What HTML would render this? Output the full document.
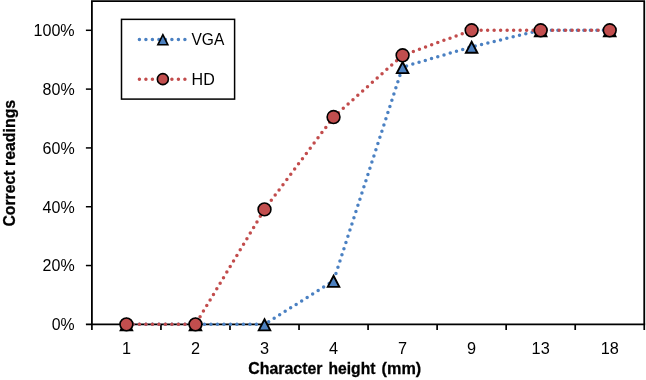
<!DOCTYPE html>
<html lang="en">
<head>
<meta charset="utf-8">
<title>Correct readings vs character height</title>
<style>
html,body{margin:0;padding:0;background:#fff;}
body{width:646px;height:380px;overflow:hidden;}
svg{display:block;will-change:transform;}
text{font-family:"Liberation Sans",sans-serif;fill:#000;}
.b{font-weight:bold;stroke:#000;stroke-width:0.3px;}
</style>
</head>
<body>
<svg width="646" height="380" viewBox="0 0 646 380">
<rect x="0" y="0" width="646" height="380" fill="#ffffff"/>

<g stroke="#000" fill="none" stroke-linecap="butt">
<path d="M91.9 324.35 V1.15 H644.25 V324.35" stroke-width="1.8" stroke-linejoin="miter"/>
<path d="M85.9 324.35 H645.15" stroke-width="1.7"/>
<path d="M85.9 265.54 H91.9" stroke-width="1.5"/>
<path d="M85.9 206.73 H91.9" stroke-width="1.5"/>
<path d="M85.9 147.92 H91.9" stroke-width="1.5"/>
<path d="M85.9 89.11 H91.9" stroke-width="1.5"/>
<path d="M85.9 30.30 H91.9" stroke-width="1.5"/>
<path d="M91.90 324.35 V330" stroke-width="1.7"/>
<path d="M160.94 324.35 V330" stroke-width="1.7"/>
<path d="M229.99 324.35 V330" stroke-width="1.7"/>
<path d="M299.03 324.35 V330" stroke-width="1.7"/>
<path d="M368.08 324.35 V330" stroke-width="1.7"/>
<path d="M437.12 324.35 V330" stroke-width="1.7"/>
<path d="M506.16 324.35 V330" stroke-width="1.7"/>
<path d="M575.21 324.35 V330" stroke-width="1.7"/>
<path d="M644.25 324.35 V330" stroke-width="1.7"/>
</g>
<text x="74.7" y="330.25" font-size="16.3" text-anchor="end" textLength="22.9" lengthAdjust="spacingAndGlyphs">0%</text>
<text x="74.7" y="271.44" font-size="16.3" text-anchor="end" textLength="32.1" lengthAdjust="spacingAndGlyphs">20%</text>
<text x="74.7" y="212.63" font-size="16.3" text-anchor="end" textLength="32.1" lengthAdjust="spacingAndGlyphs">40%</text>
<text x="74.7" y="153.82" font-size="16.3" text-anchor="end" textLength="32.1" lengthAdjust="spacingAndGlyphs">60%</text>
<text x="74.7" y="95.01" font-size="16.3" text-anchor="end" textLength="32.1" lengthAdjust="spacingAndGlyphs">80%</text>
<text x="74.7" y="36.20" font-size="16.3" text-anchor="end" textLength="41.2" lengthAdjust="spacingAndGlyphs">100%</text>
<text x="126.42" y="354.1" font-size="16.3" text-anchor="middle">1</text>
<text x="195.47" y="354.1" font-size="16.3" text-anchor="middle">2</text>
<text x="264.51" y="354.1" font-size="16.3" text-anchor="middle">3</text>
<text x="333.55" y="354.1" font-size="16.3" text-anchor="middle">4</text>
<text x="402.60" y="354.1" font-size="16.3" text-anchor="middle">7</text>
<text x="471.64" y="354.1" font-size="16.3" text-anchor="middle">9</text>
<text x="540.68" y="354.1" font-size="16.3" text-anchor="middle">13</text>
<text x="609.73" y="354.1" font-size="16.3" text-anchor="middle">18</text>
<text class="b" y="373.5" font-size="16.7"><tspan x="248.3" textLength="74.2" lengthAdjust="spacingAndGlyphs">Character</tspan> <tspan x="328.5" textLength="46.9" lengthAdjust="spacingAndGlyphs">height</tspan> <tspan x="381.6" textLength="39.6" lengthAdjust="spacingAndGlyphs">(mm)</tspan></text>
<text class="b" transform="translate(15.4 0) rotate(-90)" y="0" font-size="17.2"><tspan x="-226.5" textLength="55.9" lengthAdjust="spacingAndGlyphs">Correct</tspan> <tspan x="-166.0" textLength="66.2" lengthAdjust="spacingAndGlyphs">readings</tspan></text>
<polyline points="126.42,324.35 195.47,324.35 264.51,324.35 333.55,280.83 402.60,67.06 471.64,46.77 540.68,30.30 609.73,30.30" stroke="#4a80c2" stroke-width="3.5" stroke-linecap="round" stroke-dasharray="0 6.5" fill="none" stroke-linejoin="round"/>
<polyline points="126.42,324.35 195.47,324.35 264.51,209.38 333.55,117.04 402.60,55.29 471.64,30.30 540.68,30.30 609.73,30.30" stroke="#c24c4c" stroke-width="3.5" stroke-linecap="round" stroke-dasharray="0 6.5" fill="none" stroke-linejoin="round"/>
<path d="M126.42 319.31 L132.18 330.40 H120.66 Z" fill="#4d81c0" stroke="#000" stroke-width="1.9" stroke-linejoin="miter" stroke-miterlimit="10"/>
<path d="M195.47 319.31 L201.23 330.40 H189.70 Z" fill="#4d81c0" stroke="#000" stroke-width="1.9" stroke-linejoin="miter" stroke-miterlimit="10"/>
<path d="M264.51 319.31 L270.27 330.40 H258.75 Z" fill="#4d81c0" stroke="#000" stroke-width="1.9" stroke-linejoin="miter" stroke-miterlimit="10"/>
<path d="M333.55 275.79 L339.31 286.88 H327.79 Z" fill="#4d81c0" stroke="#000" stroke-width="1.9" stroke-linejoin="miter" stroke-miterlimit="10"/>
<path d="M402.60 62.02 L408.36 73.11 H396.84 Z" fill="#4d81c0" stroke="#000" stroke-width="1.9" stroke-linejoin="miter" stroke-miterlimit="10"/>
<path d="M471.64 41.73 L477.40 52.82 H465.88 Z" fill="#4d81c0" stroke="#000" stroke-width="1.9" stroke-linejoin="miter" stroke-miterlimit="10"/>
<path d="M540.68 25.26 L546.45 36.35 H534.92 Z" fill="#4d81c0" stroke="#000" stroke-width="1.9" stroke-linejoin="miter" stroke-miterlimit="10"/>
<path d="M609.73 25.26 L615.49 36.35 H603.97 Z" fill="#4d81c0" stroke="#000" stroke-width="1.9" stroke-linejoin="miter" stroke-miterlimit="10"/>
<circle cx="126.42" cy="324.35" r="6.40" fill="#c24e4e" stroke="#000" stroke-width="1.6"/>
<circle cx="195.47" cy="324.35" r="6.40" fill="#c24e4e" stroke="#000" stroke-width="1.6"/>
<circle cx="264.51" cy="209.38" r="6.40" fill="#c24e4e" stroke="#000" stroke-width="1.6"/>
<circle cx="333.55" cy="117.04" r="6.40" fill="#c24e4e" stroke="#000" stroke-width="1.6"/>
<circle cx="402.60" cy="55.29" r="6.40" fill="#c24e4e" stroke="#000" stroke-width="1.6"/>
<circle cx="471.64" cy="30.30" r="6.40" fill="#c24e4e" stroke="#000" stroke-width="1.6"/>
<circle cx="540.68" cy="30.30" r="6.40" fill="#c24e4e" stroke="#000" stroke-width="1.6"/>
<circle cx="609.73" cy="30.30" r="6.40" fill="#c24e4e" stroke="#000" stroke-width="1.6"/>
<rect x="121.5" y="19.35" width="113.1" height="79.75" fill="#fff" stroke="#000" stroke-width="1.5"/>
<path d="M139.4 39.4 H186" stroke="#4a80c2" stroke-width="3.5" stroke-linecap="round" stroke-dasharray="0 6.5" fill="none" stroke-linejoin="round"/>
<path d="M162.85 34.70 L167.86 44.80 H157.84 Z" fill="#4d81c0" stroke="#000" stroke-width="1.6" stroke-linejoin="miter" stroke-miterlimit="10"/>
<text x="191.5" y="44.65" font-size="16.3" textLength="32.8" lengthAdjust="spacingAndGlyphs">VGA</text>
<path d="M139.4 79.3 H186" stroke="#c24c4c" stroke-width="3.5" stroke-linecap="round" stroke-dasharray="0 6.5" fill="none" stroke-linejoin="round"/>
<circle cx="162.85" cy="79.15" r="5.50" fill="#c24e4e" stroke="#000" stroke-width="1.6"/>
<text x="191.6" y="85.0" font-size="16.3" textLength="23.2" lengthAdjust="spacingAndGlyphs">HD</text>
</svg>
</body>
</html>
